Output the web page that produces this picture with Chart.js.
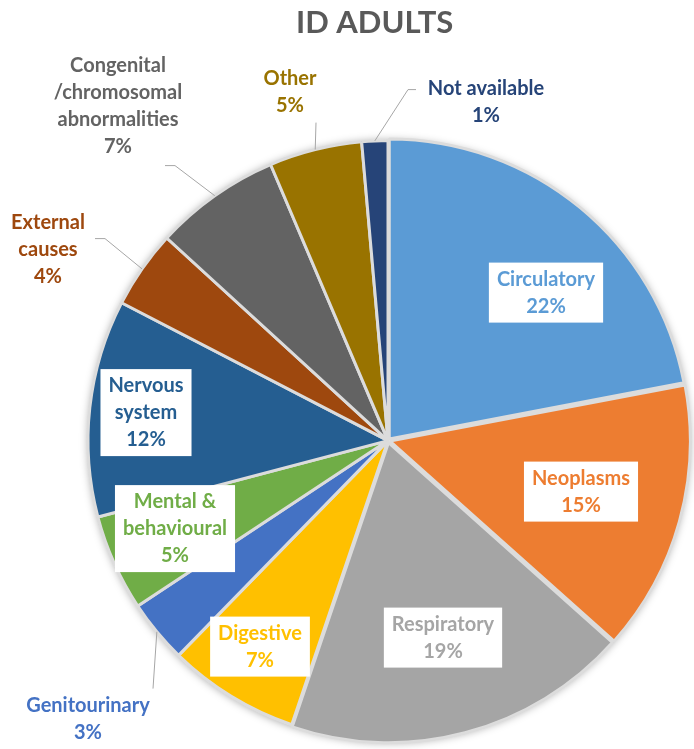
<!DOCTYPE html>
<html>
<head>
<meta charset="utf-8">
<script src="https://cdn.jsdelivr.net/npm/chart.js@4.4.0/dist/chart.umd.min.js"></script>
<style>
  html, body { margin: 0; padding: 0; background: #fff; overflow: hidden; }
  #wrap { position: relative; width: 694px; height: 840px; }
</style>
</head>
<body>
<div id="wrap"><canvas id="causesChart"></canvas></div>
<script>
// causes of death, ID adults (share, %)
const categories = ['Circulatory', 'Neoplasms', 'Respiratory', 'Digestive', 'Genitourinary',
  'Mental & behavioural', 'Nervous system', 'External causes',
  'Congenital /chromosomal abnormalities', 'Other', 'Not available'];
const shares = [22.0, 14.6, 18.6, 7.1, 3.4, 5.2, 11.7, 4.2, 6.8, 5.0, 1.4];
const labelLines = [['Circulatory'], ['Neoplasms'], ['Respiratory'], ['Digestive'], ['Genitourinary'],
  ['Mental &', 'behavioural'], ['Nervous', 'system'], ['External', 'causes'],
  ['Congenital', '/chromosomal', 'abnormalities'], ['Other'], ['Not available']];

const sliceColors = ['#5B9BD5', '#ED7D31', '#A5A5A5', '#FFC000', '#4472C4', '#70AD47',
  '#255E91', '#9E480E', '#636363', '#997300', '#264478'];
const sliceOffsets = [8, 8, 8, 0, 0, 0, 0, 0, 0, 0, 0];

// label centre relative to pie centre; leader = elbow points (relative) for outside labels
const labelSpots = [
  { dx: 158, dy: -148, boxed: true },
  { dx: 193, dy: 51, boxed: true },
  { dx: 55, dy: 197, boxed: true },
  { dx: -128, dy: 206, boxed: true },
  { dx: -300, dy: 278, leader: [[-235, 248]] },
  { dx: -213, dy: 88, boxed: true },
  { dx: -242, dy: -28, boxed: true },
  { dx: -340, dy: -191, leader: [[-283, -202], [-293, -202]] },
  { dx: -270, dy: -335, leader: [[-213, -275], [-223, -275]] },
  { dx: -98, dy: -349, leader: [[-72, -318]] },
  { dx: 98, dy: -339, leader: [[20, -351], [28, -351]] },
];

const labelFont = 'bold 20px Lato';
const lineGap = 27;

const pieShadow = {
  id: 'pieShadow',
  beforeDatasetsDraw(chart) {
    const arc = chart.getDatasetMeta(0).data[0];
    if (!arc) return;
    const ctx = chart.ctx;
    ctx.save();
    ctx.shadowColor = 'rgba(0,0,0,0.35)';
    ctx.shadowBlur = 9;
    ctx.shadowOffsetX = 1;
    ctx.shadowOffsetY = 1;
    ctx.fillStyle = '#ffffff';
    ctx.beginPath();
    ctx.arc(arc.x, arc.y, arc.outerRadius + 1, 0, Math.PI * 2);
    ctx.fill();
    ctx.restore();
  }
};

const sliceLabels = {
  id: 'sliceLabels',
  afterDatasetsDraw(chart) {
    const ctx = chart.ctx;
    const arcs = chart.getDatasetMeta(0).data;
    const total = shares.reduce((a, b) => a + b, 0);
    ctx.save();
    ctx.font = labelFont;
    ctx.textAlign = 'center';
    ctx.textBaseline = 'middle';

    arcs.forEach((arc, i) => {
      const spot = labelSpots[i];
      const cx = arc.x + spot.dx;
      const cy = arc.y + spot.dy;
      const lines = labelLines[i].concat([Math.round(shares[i] / total * 100) + '%']);
      const top = cy - (lines.length - 1) * lineGap / 2;

      if (spot.boxed) {
        const w = Math.max(...lines.map(t => ctx.measureText(t).width)) + 16;
        const h = lines.length * lineGap + 6;
        ctx.fillStyle = '#ffffff';
        ctx.fillRect(cx - w / 2, cy - h / 2, w, h);
      }

      if (spot.leader) {
        const mid = (arc.startAngle + arc.endAngle) / 2;
        ctx.strokeStyle = '#A6A6A6';
        ctx.lineWidth = 1;
        ctx.beginPath();
        ctx.moveTo(arc.x + Math.cos(mid) * arc.outerRadius, arc.y + Math.sin(mid) * arc.outerRadius);
        spot.leader.forEach(p => ctx.lineTo(arc.x + p[0], arc.y + p[1]));
        ctx.stroke();
      }

      ctx.fillStyle = sliceColors[i];
      lines.forEach((t, k) => ctx.fillText(t, cx, top + k * lineGap));
    });
    ctx.restore();
  }
};

new Chart(document.getElementById('causesChart'), {
  type: 'pie',
  data: {
    labels: categories,
    datasets: [{
      data: shares,
      backgroundColor: sliceColors,
      borderColor: '#DCDCDC',
      borderWidth: 3,
      offset: sliceOffsets,
      radius: 300,
      clip: false,
    }],
  },
  options: {
    responsive: true,
    maintainAspectRatio: false,
    animation: false,
    layout: { padding: { left: 296, right: 214, top: 0, bottom: 6 } },
    plugins: {
      legend: { display: false },
      tooltip: { enabled: false },
      title: {
        display: true,
        text: 'ID ADULTS',
        align: 'start',
        color: '#595959',
        font: { family: 'Lato', size: 31, weight: 'bold' },
        padding: { top: 4, bottom: 6 },
      },
    },
  },
  plugins: [pieShadow, sliceLabels],
});
</script>
</body>
</html>
